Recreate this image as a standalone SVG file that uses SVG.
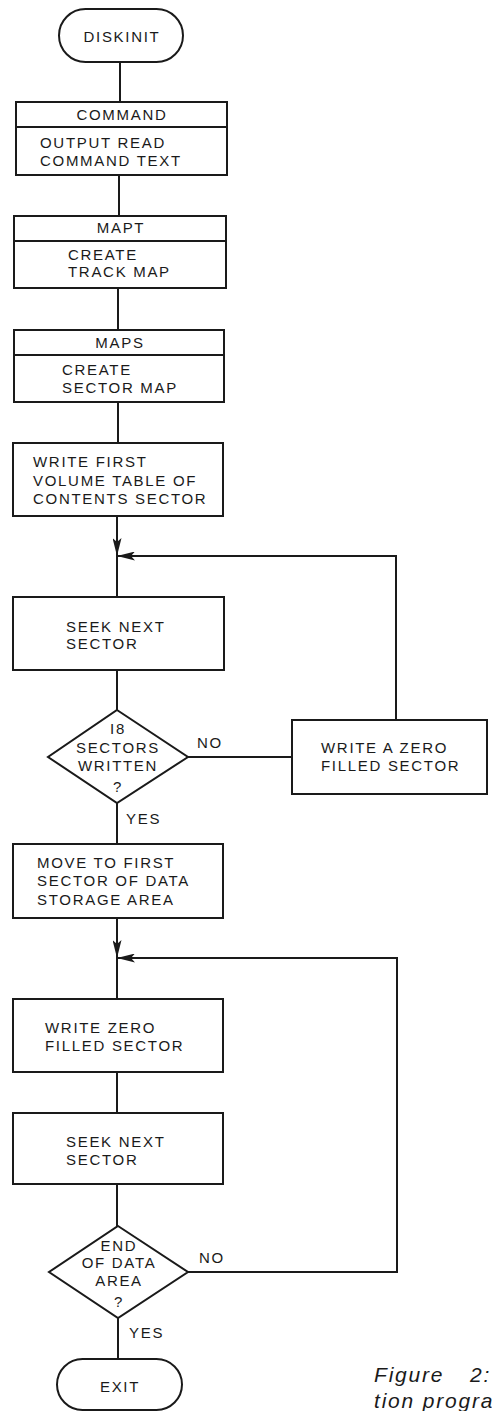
<svg xmlns="http://www.w3.org/2000/svg" width="492" height="1411" viewBox="0 0 492 1411">
<style>
.shape{fill:#fff;stroke:#1a1a1a;stroke-width:2}
.ln{fill:none;stroke:#1a1a1a;stroke-width:2}
text{font-family:"Liberation Sans",Arial,sans-serif;font-size:15px;letter-spacing:1.7px;fill:#1a1a1a}
.c{text-anchor:middle}
.cap{font-style:italic;font-size:21px;letter-spacing:1.8px}
</style>
<defs>
<marker id="arr" markerUnits="userSpaceOnUse" markerWidth="18" markerHeight="9" refX="18" refY="4.5" orient="auto">
<path d="M0,0 L18,4.5 L0,9 L4,4.5 z" fill="#1a1a1a"/>
</marker>
</defs>
<rect width="492" height="1411" fill="#fff"/>
<g id="connectors">
<line class="ln" x1="120" y1="62" x2="120" y2="102"/>
<line class="ln" x1="119" y1="175" x2="119" y2="216"/>
<line class="ln" x1="118" y1="288" x2="118" y2="330"/>
<line class="ln" x1="118" y1="402" x2="118" y2="443"/>
<line class="ln" x1="117" y1="516" x2="117" y2="556" marker-end="url(#arr)"/>
<line class="ln" x1="117" y1="556" x2="117" y2="597"/>
<line class="ln" x1="117" y1="670" x2="117" y2="710"/>
<line class="ln" x1="188" y1="757" x2="292" y2="757"/>
<polyline class="ln" points="396,720 396,556 117,556" marker-end="url(#arr)"/>
<line class="ln" x1="117" y1="803" x2="117" y2="844"/>
<line class="ln" x1="117" y1="918" x2="117" y2="958" marker-end="url(#arr)"/>
<line class="ln" x1="117" y1="958" x2="117" y2="999"/>
<line class="ln" x1="117" y1="1072" x2="117" y2="1113"/>
<line class="ln" x1="117" y1="1184" x2="117" y2="1226"/>
<polyline class="ln" points="188,1272 397,1272 397,958 117,958" marker-end="url(#arr)"/>
<line class="ln" x1="118" y1="1318" x2="118" y2="1359"/>
<text x="197" y="748">NO</text>
<text x="126" y="824">YES</text>
<text x="199" y="1263">NO</text>
<text x="129" y="1338">YES</text>
</g>
<g id="diskinit">
<rect class="shape" x="59" y="9" width="124" height="53" rx="26.5"/>
<text class="c" x="122" y="42">DISKINIT</text>
</g>
<g id="command">
<rect class="shape" x="16" y="102" width="211" height="73"/>
<line class="ln" x1="16" y1="127" x2="227" y2="127"/>
<text class="c" x="122" y="120">COMMAND</text>
<text x="40" y="148">OUTPUT READ</text>
<text x="40" y="166">COMMAND TEXT</text>
</g>
<g id="mapt">
<rect class="shape" x="14" y="216" width="212" height="72"/>
<line class="ln" x1="14" y1="241" x2="226" y2="241"/>
<text class="c" x="121" y="233">MAPT</text>
<text x="68" y="260">CREATE</text>
<text x="68" y="277">TRACK MAP</text>
</g>
<g id="maps">
<rect class="shape" x="14" y="330" width="210" height="72"/>
<line class="ln" x1="14" y1="355" x2="224" y2="355"/>
<text class="c" x="120" y="348">MAPS</text>
<text x="62" y="375">CREATE</text>
<text x="62" y="393">SECTOR MAP</text>
</g>
<g id="write-vtoc">
<rect class="shape" x="13" y="443" width="210" height="73"/>
<text x="33" y="467">WRITE FIRST</text>
<text x="33" y="486">VOLUME TABLE OF</text>
<text x="33" y="504">CONTENTS SECTOR</text>
</g>
<g id="seek1">
<rect class="shape" x="13" y="597" width="211" height="73"/>
<text x="66" y="632">SEEK NEXT</text>
<text x="66" y="649">SECTOR</text>
</g>
<g id="dec1">
<polygon class="shape" points="117,710 188,757 117,803 48,757"/>
<text class="c" x="118" y="734">I8</text>
<text class="c" x="118" y="753">SECTORS</text>
<text class="c" x="118" y="771">WRITTEN</text>
<text class="c" x="118" y="792">?</text>
</g>
<g id="write-zero-a">
<rect class="shape" x="292" y="720" width="195" height="74"/>
<text x="321" y="753">WRITE A ZERO</text>
<text x="321" y="771">FILLED SECTOR</text>
</g>
<g id="move">
<rect class="shape" x="13" y="844" width="210" height="74"/>
<text x="37" y="868">MOVE TO FIRST</text>
<text x="37" y="886">SECTOR OF DATA</text>
<text x="37" y="905">STORAGE AREA</text>
</g>
<g id="write-zero">
<rect class="shape" x="13" y="999" width="210" height="73"/>
<text x="45" y="1033">WRITE ZERO</text>
<text x="45" y="1051">FILLED SECTOR</text>
</g>
<g id="seek2">
<rect class="shape" x="13" y="1113" width="210" height="71"/>
<text x="66" y="1147">SEEK NEXT</text>
<text x="66" y="1165">SECTOR</text>
</g>
<g id="dec2">
<polygon class="shape" points="118,1226 188,1272 118,1318 49,1272"/>
<text class="c" x="119" y="1251">END</text>
<text class="c" x="119" y="1268">OF DATA</text>
<text class="c" x="119" y="1286">AREA</text>
<text class="c" x="119" y="1307">?</text>
</g>
<g id="exit">
<rect class="shape" x="57" y="1359" width="125" height="51" rx="25.5"/>
<text class="c" x="120" y="1392">EXIT</text>
</g>
<g id="caption">
<text class="cap" x="374" y="1382">Figure<tspan x="470">2:</tspan></text>
<text class="cap" x="374" y="1408">tion progra</text>
</g>
</svg>
